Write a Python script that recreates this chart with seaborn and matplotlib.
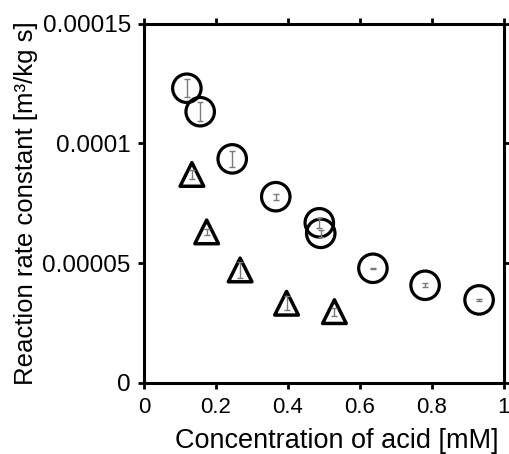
import numpy as np
import pandas as pd
import matplotlib
matplotlib.use("Agg")
import matplotlib.pyplot as plt
import seaborn as sns

# circle series
circle_x = [0.119, 0.156, 0.245, 0.366, 0.487, 0.491, 0.636, 0.781, 0.931]
circle_y = [1.230e-4, 1.132e-4, 9.35e-5, 7.77e-5, 6.68e-5, 6.24e-5, 4.78e-5, 4.07e-5, 3.46e-5]
circle_err = [3.8e-6, 4.0e-6, 3.3e-6, 1.25e-6, 2.2e-6, 1.5e-6, 0.3e-6, 0.8e-6, 0.5e-6]

# triangle series
tri_x = [0.133, 0.174, 0.267, 0.396, 0.529]
tri_y = [8.70e-5, 6.30e-5, 4.71e-5, 3.32e-5, 2.97e-5]
tri_err = [2.0e-6, 1.4e-6, 3.4e-6, 2.9e-6, 1.7e-6]

x_ticks = [0, 0.2, 0.4, 0.6, 0.8, 1.0]
x_labels = ["0", "0.2", "0.4", "0.6", "0.8", "1"]
y_ticks = [0, 0.00005, 0.0001, 0.00015]
y_labels = ["0", "0.00005", "0.0001", "0.00015"]

sns.set_style("ticks")
plt.rcParams['font.family'] = ['Liberation Sans', 'DejaVu Sans']

circles = pd.DataFrame({'x': circle_x, 'y': circle_y, 'err': circle_err})
triangles = pd.DataFrame({'x': tri_x, 'y': tri_y, 'err': tri_err})

fig = plt.figure(figsize=(5.09, 4.54), dpi=100)
ax = fig.add_axes([0.283, 0.157, 0.707, 0.791])

for df in (circles, triangles):
    ax.errorbar(df['x'], df['y'], yerr=df['err'], fmt='none', ecolor='#7a7a7a',
                elinewidth=1.0, capsize=2.5, capthick=1.0, zorder=3)

sns.scatterplot(data=circles, x='x', y='y', marker='o', s=420, facecolor='none',
                edgecolor='black', linewidth=2.3, ax=ax, zorder=2)
sns.scatterplot(data=triangles, x='x', y='y', marker='^', s=290, facecolor='none',
                edgecolor='black', linewidth=2.5, ax=ax, zorder=2)

ax.set_xlim(0, 1)
ax.set_ylim(0, 0.00015)
ax.set_xticks(x_ticks)
ax.set_xticklabels(x_labels)
ax.set_yticks(y_ticks)
ax.set_yticklabels(y_labels)

for sp in ax.spines.values():
    sp.set_visible(True)
    sp.set_linewidth(2.2)
    sp.set_color('black')
ax.tick_params(direction='out', length=4.5, width=2.0, color='black', top=True,
               right=True, labelcolor='black', pad=5)
ax.tick_params(axis='x', labelsize=16, pad=6)
ax.tick_params(axis='y', labelsize=17.5, pad=5)

ax.set_xlabel('Concentration of acid [mM]', fontsize=19.5, color='black')
ax.set_ylabel('Reaction rate constant [m³/kg s]', fontsize=18.5, color='black')
ax.xaxis.set_label_coords(0.535, -0.125)
ax.yaxis.set_label_coords(-0.295, 0.5)

fig.savefig('out.png', dpi=100)
